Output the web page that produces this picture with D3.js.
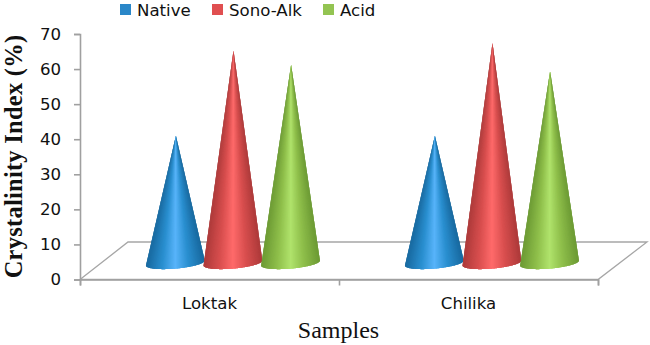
<!DOCTYPE html>
<html>
<head>
<meta charset="utf-8">
<script src="https://cdn.jsdelivr.net/npm/d3@7"></script>
<style>
  body { margin: 0; background: #fff; }
  svg { display: block; }
</style>
</head>
<body>
<div id="chart"></div>
<script>
// data
var categories = ["Loktak", "Chilika"];
var seriesNames = ["Native", "Sono-Alk", "Acid"];
var native = [41, 41];
var sonoAlk = [65.3, 67.4];
var acid = [61.2, 59.4];
var yTicks = [0, 10, 20, 30, 40, 50, 60, 70];
var seriesValues = [native, sonoAlk, acid];

// cone colours: edge, mid, highlight
var conePalette = [
  ["#18699f", "#2a8fd0", "#58b4fa"],
  ["#ad3a3a", "#d94f4f", "#ff6a6a"],
  ["#6c9a34", "#8fbf4b", "#b0e36c"]
];
var legendColors = ["#2a87c8", "#e04f50", "#93c452"];

var svgWidth = 650;
var svgHeight = 345;
var labelFont = "'DejaVu Sans'";
var labelSize = 16.6;

var svg = d3.select("#chart").append("svg")
  .attr("width", svgWidth)
  .attr("height", svgHeight);

// front edge of the floor and how far back it goes
var x0 = 80, x1 = 598, yBottom = 279.5, yTop = 34;
var depthX = 48, depthY = 37.5;

var xScale = d3.scaleBand().domain(categories).range([x0, x1]);
var xEdges = d3.scaleLinear().domain([0, categories.length]).range([x0, x1]);
var seriesScale = d3.scaleBand().domain(seriesNames)
  .range([-86.4, 86.4]);
var yScale = d3.scaleLinear().domain([0, 70]).range([yBottom, yTop]);

// floor
svg.append("path")
  .attr("d", d3.line()([
    [x0, yBottom], [x0 + depthX, yBottom - depthY],
    [x1 + depthX + 1, yBottom - depthY], [x1, yBottom]
  ]) + "Z")
  .attr("fill", "#fff")
  .attr("stroke", "#a6a6a6")
  .attr("stroke-width", 1.3);

// axes
var yAxis = d3.axisLeft(yScale).tickValues(yTicks).tickSize(6).tickPadding(13);
var yG = svg.append("g").attr("transform", "translate(" + x0 + ",0)").call(yAxis);
yG.selectAll("text")
  .attr("font-family", labelFont)
  .attr("font-size", labelSize)
  .attr("fill", "#111");

var xTickAxis = d3.axisBottom(xEdges).tickValues([0, 1, 2]).tickSize(6).tickFormat("");
var xG = svg.append("g").attr("transform", "translate(0," + yBottom + ")").call(xTickAxis);

var xLabelAxis = d3.axisBottom(xScale).tickSize(0).tickPadding(18);
var xL = svg.append("g").attr("transform", "translate(0," + yBottom + ")").call(xLabelAxis);
xL.select(".domain").remove();
xL.selectAll("text")
  .attr("font-family", labelFont)
  .attr("font-size", labelSize)
  .attr("fill", "#111");

svg.selectAll(".domain, .tick line")
  .attr("stroke", "#a0a0a0")
  .attr("stroke-width", 1.6);

// cones, painted as overlapping wedges so the shading runs into the tip
var tilt = -5 * Math.PI / 180;
var coneA = 29.5, coneB = 5.6, baseY = 263;
var wedgeCount = 90;

function shade(p, t) {
  var d = Math.abs(t - 0.5) * 2;
  if (d < 0.45) return d3.interpolateRgb(p[2], p[1])(d / 0.45);
  return d3.interpolateRgb(p[1], p[0])((d - 0.45) / 0.55);
}

function basePoint(cx, a) {
  var ex = coneA * Math.cos(a), ey = coneB * Math.sin(a);
  return [cx + ex * Math.cos(tilt) - ey * Math.sin(tilt),
          baseY + ex * Math.sin(tilt) + ey * Math.cos(tilt)];
}

seriesNames.forEach(function(name, s) {
  categories.forEach(function(cat, c) {
    var tipX = xScale(cat) + xScale.bandwidth() / 2 + depthX / 2
      + seriesScale(name) + seriesScale.bandwidth() / 2;
    var tipY = yScale(seriesValues[s][c]);
    var cx = tipX - 0.6;
    var wedges = d3.range(wedgeCount);

    svg.append("g").attr("class", "cone").selectAll("path").data(wedges).enter()
      .append("path")
      .attr("d", function(i) {
        // each wedge runs on under the next one, which hides the seams
        var a0 = Math.PI - Math.PI * i / wedgeCount;
        var pts = [[tipX, tipY], basePoint(cx, a0)];
        for (var k = i + 1; k <= Math.min(i + 3, wedgeCount); k++) {
          pts.push(basePoint(cx, Math.PI - Math.PI * k / wedgeCount));
        }
        return d3.line()(pts) + "Z";
      })
      .attr("fill", function(i) {
        var p0 = basePoint(cx, Math.PI - Math.PI * (i + 0.5) / wedgeCount);
        return shade(conePalette[s], (p0[0] - (cx - coneA)) / (2 * coneA));
      });
  });
});

// legend
var legendX = [120, 212, 323];
var legend = svg.selectAll(".legend").data(seriesNames).enter().append("g")
  .attr("class", "legend")
  .attr("transform", function(d, i) { return "translate(" + legendX[i] + ",4)"; });
legend.append("rect")
  .attr("width", 11).attr("height", 11)
  .attr("fill", function(d, i) { return legendColors[i]; });
legend.append("text")
  .attr("x", 17).attr("y", 11.5)
  .attr("font-family", labelFont)
  .attr("font-size", labelSize)
  .attr("fill", "#111")
  .text(function(d) { return d; });

// axis titles
svg.append("text")
  .attr("transform", "translate(22,156.5) rotate(-90)")
  .attr("text-anchor", "middle")
  .attr("font-family", "'Liberation Serif'")
  .attr("font-weight", "bold")
  .attr("font-size", 24.5)
  .attr("letter-spacing", 0.25)
  .attr("fill", "#111")
  .text("Crystalinity Index (%)");

svg.append("text")
  .attr("x", 338.5).attr("y", 338)
  .attr("text-anchor", "middle")
  .attr("font-family", "'Liberation Serif'")
  .attr("font-size", 24)
  .attr("fill", "#111")
  .text("Samples");
</script>
</body>
</html>
